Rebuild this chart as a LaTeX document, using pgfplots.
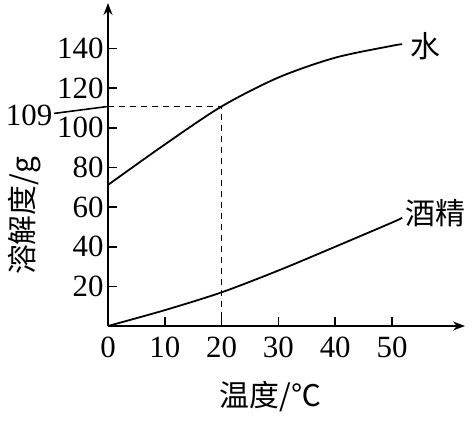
\documentclass[border=0pt]{standalone}
\usepackage{pgfplots}
\pgfplotsset{compat=1.18}
\usetikzlibrary{arrows.meta}
\usepackage{fontspec}
\setmainfont{Liberation Serif}
\newfontfamily\cjk{Noto Sans CJK SC}

\begin{document}
\begin{tikzpicture}
\begin{axis}[
  scale only axis,
  width=357bp, height=323bp,
  xmin=0, xmax=62.85,
  ymin=0, ymax=163,
  axis lines=left,
  axis line style={line width=1.8bp, -{Stealth[length=12bp,width=9bp]}},
  xtick={0,10,...,50},
  ytick={20,40,...,140},
  tick align=inside,
  major tick length=9bp,
  tick style={line width=1.6bp, black},
  ticklabel style={font=\fontsize{31}{31}\selectfont},
  xticklabel style={yshift=-7bp},
  yticklabel style={xshift=-1bp},
  clip=false,
  /pgf/number format/assume math mode=true,
]
  % water
  \addplot[black, line width=1.8bp, smooth] coordinates {
    (0,71.2) (10,91.6) (20,110.8) (30,125.4) (40,135.4) (50,141.4) (51.8,142.2)};
  % alcohol
  \addplot[black, line width=1.8bp, smooth] coordinates {
    (0,0) (10,8) (20,17) (30,28) (40,40) (50,52.2) (51.8,54.6)};
  % guide lines
  \addplot[black, line width=1.6bp, dash pattern=on 6bp off 5bp] coordinates {
    (0,110.8) (20,110.8) (20,0)};

  \draw[line width=1.6bp] (axis cs:0,110.8) -- ++(-54bp,-7bp)
    node[anchor=east, inner sep=1bp, font=\fontsize{31}{31}\selectfont, yshift=-2bp] {109};

  \node[anchor=west, font=\cjk\fontsize{30}{30}\selectfont, inner sep=0pt]
    at (axis cs:53.2,141) {水};
  \node[anchor=west, font=\cjk\fontsize{30}{30}\selectfont, inner sep=0pt]
    at (axis cs:52.3,57) {酒精};
  \node[font=\cjk\fontsize{30}{30}\selectfont, inner sep=0pt]
    at (axis cs:28.6,-35.8) {温度/℃};
  \node[rotate=90, font=\cjk\fontsize{30}{30}\selectfont, inner sep=0pt]
    at (axis cs:-14.6,55.5) {溶解度/g};

  \path (axis cs:0,0) ++(-108bp,-96bp) rectangle ++(472bp,422bp);
\end{axis}
\end{tikzpicture}
\end{document}
